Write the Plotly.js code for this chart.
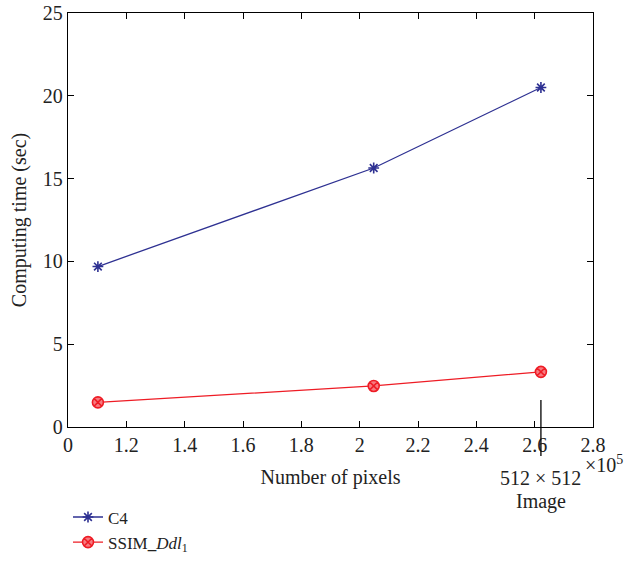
<!DOCTYPE html>
<html>
<head>
<meta charset="utf-8">
<script src="https://cdn.plot.ly/plotly-3.0.1.min.js"></script>
<style>html,body{margin:0;padding:0;background:#fff;}#chart{width:624px;height:561px;}</style>
</head>
<body>
<div id="chart"></div>
<script>
// Data (x in units of 1e5 pixels)
const pixelsX = [1.1025, 2.0481, 2.62144];
const c4Times = [9.69, 15.64, 20.5];
const ssimTimes = [1.49, 2.48, 3.33];
const xTickVals = [1.0, 1.2, 1.4, 1.6, 1.8, 2.0, 2.2, 2.4, 2.6, 2.8];
const xTickText = ['0', '1.2', '1.4', '1.6', '1.8', '2', '2.2', '2.4', '2.6', '2.8'];
const yTickVals = [0, 5, 10, 15, 20, 25];
const markX = 2.62144;

const FONT = 'Liberation Serif, Times New Roman, serif';
const BLUE = '#2e3192';
const RED = '#ee1c25';
const TXT = '#222';

const traces = [
  {
    x: pixelsX, y: c4Times, name: 'C4', type: 'scatter', mode: 'lines+markers',
    line: {color: BLUE, width: 1.3},
    marker: {symbol: 'asterisk-open', size: 9, color: BLUE, line: {color: BLUE, width: 1.6}}
  },
  {
    x: pixelsX, y: ssimTimes, name: 'SSIM<b>_</b><i>Ddl</i><sub>1</sub>', type: 'scatter', mode: 'lines+markers',
    line: {color: RED, width: 1.3},
    marker: {symbol: 'circle-x', size: 11, color: '#f77a80', line: {color: RED, width: 1.6}}
  }
];

const axisCommon = {
  showline: true, linecolor: '#000', linewidth: 1.3, mirror: 'ticks',
  ticks: 'inside', ticklen: 6, tickcolor: '#000', tickwidth: 1,
  showgrid: false, zeroline: false,
  tickfont: {family: FONT, size: 20, color: TXT}
};

const layout = {
  width: 624, height: 561,
  margin: {l: 68, r: 31, t: 13, b: 134, autoexpand: false},
  paper_bgcolor: '#fff', plot_bgcolor: '#fff',
  font: {family: FONT, color: TXT},
  showlegend: true,
  legend: {x: 0, y: -0.175, xanchor: 'left', yanchor: 'top', font: {family: FONT, size: 17, color: TXT},
           bgcolor: 'rgba(0,0,0,0)', tracegroupgap: 0, itemwidth: 30},
  xaxis: Object.assign({}, axisCommon, {
    range: [1.0, 2.8], tickvals: xTickVals, ticktext: xTickText,
    title: {text: 'Number of pixels', font: {family: FONT, size: 20, color: TXT}, standoff: 14}
  }),
  yaxis: Object.assign({}, axisCommon, {
    range: [0, 25], tickvals: yTickVals,
    title: {text: 'Computing time (sec)', font: {family: FONT, size: 20, color: TXT}, standoff: 10}
  }),
  shapes: [
    {type: 'line', xref: 'x', yref: 'paper', x0: markX, x1: markX, y0: 0.065, y1: -0.07,
     line: {color: '#000', width: 1.3}}
  ],
  annotations: [
    {xref: 'x', yref: 'paper', x: markX, y: -0.092, text: '512 × 512', showarrow: false,
     xanchor: 'center', yanchor: 'top', font: {family: FONT, size: 20, color: TXT}},
    {xref: 'x', yref: 'paper', x: markX, y: -0.147, text: 'Image', showarrow: false,
     xanchor: 'center', yanchor: 'top', font: {family: FONT, size: 20, color: TXT}},
    {xref: 'paper', yref: 'paper', x: 1.06, y: -0.056, text: '×10<sup>5</sup>', showarrow: false,
     xanchor: 'right', yanchor: 'top', font: {family: FONT, size: 20, color: TXT}}
  ]
};

Plotly.newPlot('chart', traces, layout, {displayModeBar: false, staticPlot: true});
</script>
</body>
</html>
